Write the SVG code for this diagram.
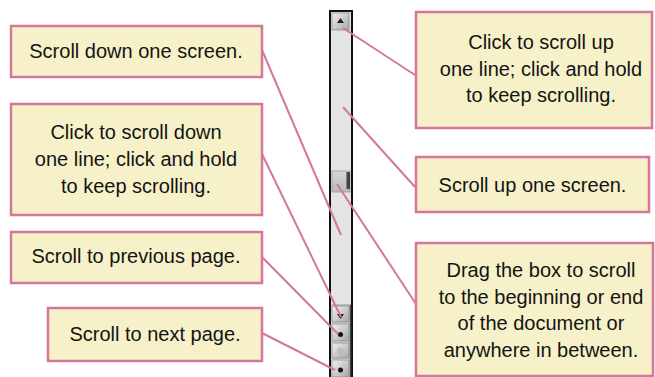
<svg xmlns="http://www.w3.org/2000/svg" width="655" height="377" viewBox="0 0 655 377">
<style>
.box{fill:#f6f1c8;stroke:#d4779a;stroke-width:2.5}
.t{font-family:"Liberation Sans",Arial,sans-serif;font-size:20px;fill:#141414;text-anchor:middle}
.c{stroke:#d4779a;stroke-width:2;fill:none}
.btn{fill:url(#bg);stroke:#777;stroke-width:0.6}
</style>
<defs>
<linearGradient id="bg" x1="0" y1="0" x2="1" y2="1">
<stop offset="0" stop-color="#f0f0f0"/>
<stop offset="1" stop-color="#a8a8a8"/>
</linearGradient>
<linearGradient id="tg" x1="0" y1="0" x2="0" y2="1">
<stop offset="0" stop-color="#d8d8d8"/>
<stop offset="1" stop-color="#b8b8b8"/>
</linearGradient>
</defs>
<rect width="655" height="377" fill="#fff"/>
<g id="scrollbar">
<rect x="330" y="11" width="22" height="372" fill="#e4e4e4" stroke="#111" stroke-width="2"/>
<rect class="btn" x="332" y="13" width="17" height="17"/>
<path d="M337 23 L340.5 18 L344 23 Z" fill="#222"/>
<rect x="332" y="171" width="18" height="21" fill="url(#tg)" stroke="#9a9a9a" stroke-width="0.8"/>
<rect x="346.5" y="172" width="3.5" height="17" fill="#444"/>
<rect x="332" y="305" width="19" height="72" fill="#d6d6d6"/>
<line x1="332" y1="305" x2="351" y2="305" stroke="#999" stroke-width="1"/>
<line x1="350.5" y1="305" x2="350.5" y2="377" stroke="#444" stroke-width="1.5"/>
<rect class="btn" x="332" y="306" width="17" height="16"/>
<path d="M337 314 L344 314 L340.5 319 Z" fill="#222"/>
<rect class="btn" x="332" y="324" width="17" height="17"/>
<circle cx="340.5" cy="334.5" r="2.5" fill="#111"/>
<rect class="btn" x="332" y="343" width="17" height="15"/>
<circle cx="340.5" cy="351" r="3.5" fill="#bdbdbd"/>
<rect class="btn" x="332" y="360" width="17" height="17"/>
<circle cx="340.5" cy="370" r="2.5" fill="#111"/>
</g>
<g id="connectors">
<line class="c" x1="262" y1="50" x2="341" y2="235"/>
<line class="c" x1="262" y1="154" x2="341" y2="317"/>
<line class="c" x1="261" y1="256" x2="338" y2="334"/>
<line class="c" x1="262" y1="333" x2="335" y2="370"/>
<line class="c" x1="415" y1="75" x2="343" y2="28"/>
<line class="c" x1="415" y1="187" x2="343" y2="107"/>
<line class="c" x1="416" y1="304" x2="337" y2="184"/>
</g>
<g id="n1"><rect class="box" x="11" y="26" width="251" height="51"/><text class="t" x="136" y="58">Scroll down one screen.</text></g>
<g id="n2"><rect class="box" x="11" y="104" width="251" height="111"/><text class="t" x="136" y="139">Click to scroll down</text><text class="t" x="136" y="166">one line; click and hold</text><text class="t" x="136" y="193">to keep scrolling.</text></g>
<g id="n3"><rect class="box" x="11" y="232" width="251" height="51"/><text class="t" x="136" y="263">Scroll to previous page.</text></g>
<g id="n4"><rect class="box" x="48" y="308" width="214" height="53"/><text class="t" x="155" y="341">Scroll to next page.</text></g>
<g id="n5"><rect class="box" x="416" y="12" width="236" height="116"/><text class="t" x="541" y="49">Click to scroll up</text><text class="t" x="541" y="76">one line; click and hold</text><text class="t" x="541" y="102">to keep scrolling.</text></g>
<g id="n6"><rect class="box" x="416" y="157" width="233" height="55"/><text class="t" x="532.5" y="192">Scroll up one screen.</text></g>
<g id="n7"><rect class="box" x="416" y="243" width="237" height="133"/><text class="t" x="541" y="277">Drag the box to scroll</text><text class="t" x="541" y="304">to the beginning or end</text><text class="t" x="541" y="330">of the document or</text><text class="t" x="541" y="357">anywhere in between.</text></g>
</svg>
